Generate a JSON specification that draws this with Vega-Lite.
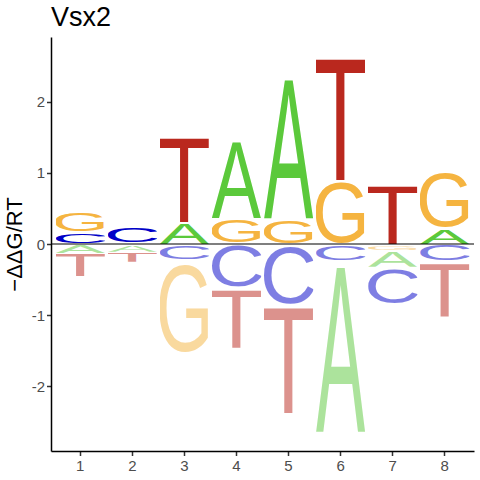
{
  "$schema": "https://vega.github.io/schema/vega-lite/v6.json",
  "width": 423,
  "height": 414,
  "autosize": "none",
  "padding": {"left": 51, "top": 37, "right": 6, "bottom": 29},
  "title": {
    "text": "Vsx2",
    "anchor": "start",
    "frame": "group",
    "font": "Liberation Sans",
    "fontSize": 27,
    "fontWeight": "normal",
    "color": "black",
    "offset": 5
  },
  "layer": [
    {
      "data": {
        "values": [
          {"pos": "1", "letter": "C", "lo": 0.01, "hi": 0.15},
          {"pos": "1", "letter": "G", "lo": 0.18, "hi": 0.455},
          {"pos": "1", "letter": "A", "lo": -0.13, "hi": -0.015},
          {"pos": "1", "letter": "T", "lo": -0.45, "hi": -0.14},
          {"pos": "2", "letter": "C", "lo": 0.02, "hi": 0.23},
          {"pos": "2", "letter": "A", "lo": -0.11, "hi": -0.02},
          {"pos": "2", "letter": "T", "lo": -0.25, "hi": -0.12},
          {"pos": "3", "letter": "A", "lo": 0.0, "hi": 0.3},
          {"pos": "3", "letter": "T", "lo": 0.31, "hi": 1.52},
          {"pos": "3", "letter": "C", "lo": -0.21, "hi": -0.01},
          {"pos": "3", "letter": "G", "lo": -1.52, "hi": -0.24},
          {"pos": "4", "letter": "G", "lo": 0.02, "hi": 0.35},
          {"pos": "4", "letter": "A", "lo": 0.36, "hi": 1.465},
          {"pos": "4", "letter": "C", "lo": -0.6, "hi": -0.01},
          {"pos": "4", "letter": "T", "lo": -1.46, "hi": -0.62},
          {"pos": "5", "letter": "G", "lo": 0.01, "hi": 0.34},
          {"pos": "5", "letter": "A", "lo": 0.36, "hi": 2.38},
          {"pos": "5", "letter": "C", "lo": -0.84, "hi": -0.01},
          {"pos": "5", "letter": "T", "lo": -2.38, "hi": -0.85},
          {"pos": "6", "letter": "G", "lo": 0.01, "hi": 0.89},
          {"pos": "6", "letter": "T", "lo": 0.9, "hi": 2.65},
          {"pos": "6", "letter": "C", "lo": -0.23, "hi": -0.01},
          {"pos": "6", "letter": "A", "lo": -2.64, "hi": -0.24},
          {"pos": "7", "letter": "T", "lo": 0.0, "hi": 0.845},
          {"pos": "7", "letter": "G", "lo": -0.085, "hi": -0.03},
          {"pos": "7", "letter": "A", "lo": -0.32, "hi": -0.1},
          {"pos": "7", "letter": "C", "lo": -0.84, "hi": -0.34},
          {"pos": "8", "letter": "A", "lo": 0.0, "hi": 0.21},
          {"pos": "8", "letter": "G", "lo": 0.235, "hi": 1.02},
          {"pos": "8", "letter": "C", "lo": -0.235, "hi": -0.01},
          {"pos": "8", "letter": "T", "lo": -1.02, "hi": -0.25}
        ]
      },
      "mark": {"type": "image", "aspect": false},
      "encoding": {
        "x": {
          "field": "pos",
          "type": "ordinal",
          "scale": {"paddingInner": 0.05, "paddingOuter": 0.087},
          "axis": {"title": null, "labelAngle": 0, "labelPadding": 3}
        },
        "y": {
          "field": "hi",
          "type": "quantitative",
          "scale": {"domain": [-2.91, 2.91], "nice": false, "zero": false},
          "axis": {
            "title": "−ΔΔG/RT",
            "values": [-2, -1, 0, 1, 2],
            "labelExpr": "'' + datum.value",
            "labelPadding": 2,
            "titlePadding": 5
          }
        },
        "y2": {"field": "lo"},
        "opacity": {
          "condition": {"test": "datum.hi <= 0", "value": 0.5},
          "value": 1
        },
        "url": {
          "condition": [
            {"test": "datum.letter === 'A'", "value": "data:image/svg+xml;utf8,<svg xmlns='http://www.w3.org/2000/svg' viewBox='-3 -1466 1372 1466' preserveAspectRatio='none'><text x='0' y='0' font-family='Liberation Sans' font-size='2048' fill='%235BC93B'>A</text></svg>"},
            {"test": "datum.letter === 'C'", "value": "data:image/svg+xml;utf8,<svg xmlns='http://www.w3.org/2000/svg' viewBox='99 -1491 1285 1516' preserveAspectRatio='none'><text x='0' y='0' font-family='Liberation Sans' font-size='2048' fill='%230000C8'>C</text></svg>"},
            {"test": "datum.letter === 'G'", "value": "data:image/svg+xml;utf8,<svg xmlns='http://www.w3.org/2000/svg' viewBox='108 -1491 1368 1516' preserveAspectRatio='none'><text x='0' y='0' font-family='Liberation Sans' font-size='2048' fill='%23F5B440'>G</text></svg>"}
          ],
          "value": "data:image/svg+xml;utf8,<svg xmlns='http://www.w3.org/2000/svg' viewBox='48 -1466 1162 1466' preserveAspectRatio='none'><text x='0' y='0' font-family='Liberation Sans' font-size='2048' fill='%23BA281E'>T</text></svg>"
        }
      }
    },
    {
      "data": {"values": [{"zero": 0}]},
      "mark": {"type": "rule", "color": "black", "strokeWidth": 1.2},
      "encoding": {"y": {"field": "zero", "type": "quantitative"}}
    }
  ],
  "config": {
    "view": {"stroke": null},
    "axis": {
      "grid": false,
      "domainColor": "black",
      "domainWidth": 1.5,
      "tickColor": "#333333",
      "tickWidth": 1.5,
      "tickSize": 4.5,
      "labelFont": "Liberation Sans",
      "labelFontSize": 15,
      "labelColor": "#4D4D4D",
      "titleFont": "Liberation Sans",
      "titleFontSize": 22,
      "titleFontWeight": "normal",
      "titleColor": "black"
    }
  }
}
